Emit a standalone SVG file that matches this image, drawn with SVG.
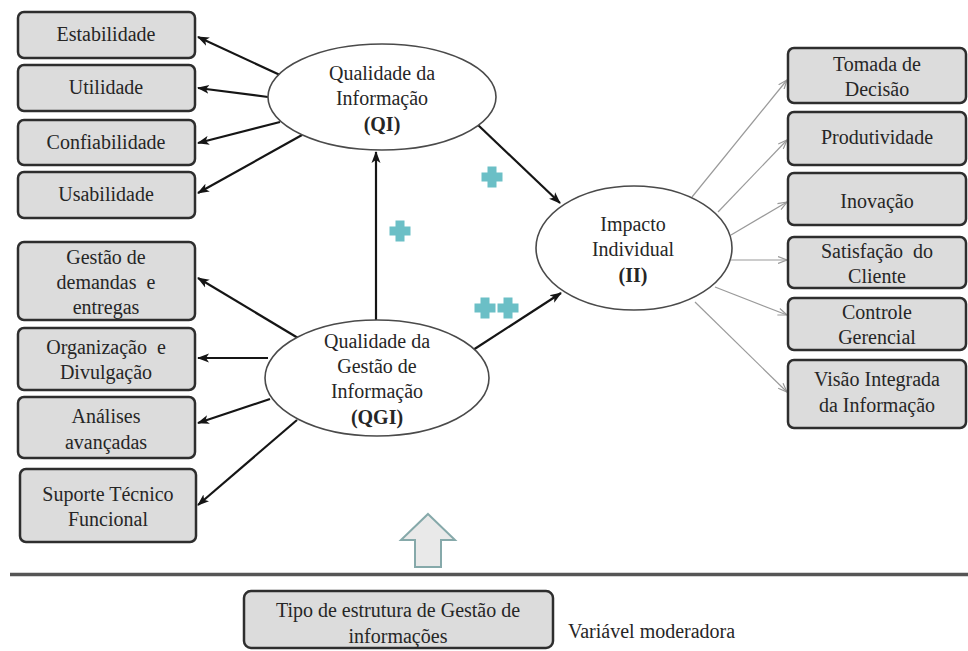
<svg xmlns="http://www.w3.org/2000/svg" width="968" height="651" viewBox="0 0 968 651" font-family="Liberation Serif">
  <style>
    text { font-size: 20px; fill: #262626; text-anchor: middle; }
    .box { fill: #dcdcdc; stroke: #2e2e2e; stroke-width: 2.5; }
    .ell { fill: #ffffff; stroke: #4a4a4a; stroke-width: 1.6; }
    .dark { stroke: #151515; stroke-width: 2.2; fill: none; marker-end: url(#arrowDark); }
    .light { stroke: #9a9a9a; stroke-width: 1.2; fill: none; marker-end: url(#arrowLight); }
    .plus { fill: #6bbfc6; }
    .bold { font-weight: bold; }
    .start { text-anchor: start; }
  </style>
  <defs>
    <marker id="arrowDark" viewBox="0 0 12 10" refX="11" refY="5" markerWidth="12" markerHeight="10" markerUnits="userSpaceOnUse" orient="auto">
      <path d="M0,0.5 L12,5 L0,9.5 L3,5 z" fill="#151515"/>
    </marker>
    <marker id="arrowLight" viewBox="0 0 10 8" refX="9.5" refY="4" markerWidth="10" markerHeight="8" markerUnits="userSpaceOnUse" orient="auto">
      <path d="M0.5,0.5 L9.5,4 L0.5,7.5" fill="none" stroke="#9a9a9a" stroke-width="1.2"/>
    </marker>
  </defs>

  <rect width="968" height="651" fill="#ffffff"/>

  <!-- connectors -->
  <g id="connectors">
    <!-- QI to its indicators -->
    <line class="dark" x1="280" y1="75" x2="198" y2="37"/>
    <line class="dark" x1="268" y1="97" x2="198" y2="88"/>
    <line class="dark" x1="280" y1="122" x2="198" y2="143"/>
    <line class="dark" x1="302" y1="135" x2="198" y2="193"/>
    <!-- QGI to its indicators -->
    <line class="dark" x1="298" y1="338" x2="198" y2="278"/>
    <line class="dark" x1="268" y1="358" x2="198" y2="358"/>
    <line class="dark" x1="270" y1="399" x2="198" y2="423"/>
    <line class="dark" x1="297" y1="420" x2="198" y2="505"/>
    <!-- structural paths -->
    <line class="dark" x1="376" y1="320" x2="376" y2="152"/>
    <line class="dark" x1="478" y1="125" x2="560" y2="203"/>
    <line class="dark" x1="473" y1="350" x2="561" y2="293"/>
    <!-- II to its indicators -->
    <line class="light" x1="692" y1="197" x2="787" y2="80"/>
    <line class="light" x1="718" y1="212" x2="787" y2="140"/>
    <line class="light" x1="731" y1="235" x2="787" y2="202"/>
    <line class="light" x1="731" y1="260" x2="787" y2="260"/>
    <line class="light" x1="715" y1="287" x2="787" y2="315"/>
    <line class="light" x1="695" y1="302" x2="787" y2="392"/>
  </g>

  <!-- signs of the effects -->
  <g id="signs">
    <path class="plus" transform="translate(492,177)" d="M-4.5,-10.5 h9 v6 h6 v9 h-6 v6 h-9 v-6 h-6 v-9 h6 z"/>
    <path class="plus" transform="translate(400,231)" d="M-4.5,-10.5 h9 v6 h6 v9 h-6 v6 h-9 v-6 h-6 v-9 h6 z"/>
    <path class="plus" transform="translate(485,308)" d="M-4.5,-10.5 h9 v6 h6 v9 h-6 v6 h-9 v-6 h-6 v-9 h6 z"/>
    <path class="plus" transform="translate(508,308)" d="M-4.5,-10.5 h9 v6 h6 v9 h-6 v6 h-9 v-6 h-6 v-9 h6 z"/>
  </g>

  <!-- left indicators: QI -->
  <g id="estabilidade">
    <rect class="box" x="18" y="12" width="177" height="46" rx="6"/>
    <text x="106" y="41" font-family="Liberation Serif">Estabilidade</text>
  </g>
  <g id="utilidade">
    <rect class="box" x="18" y="65" width="177" height="46" rx="6"/>
    <text x="106" y="94" font-family="Liberation Serif">Utilidade</text>
  </g>
  <g id="confiabilidade">
    <rect class="box" x="18" y="120" width="177" height="45" rx="6"/>
    <text x="106" y="149" font-family="Liberation Serif">Confiabilidade</text>
  </g>
  <g id="usabilidade">
    <rect class="box" x="18" y="172" width="177" height="46" rx="6"/>
    <text x="106" y="201" font-family="Liberation Serif">Usabilidade</text>
  </g>

  <!-- left indicators: QGI -->
  <g id="gestao-demandas">
    <rect class="box" x="18" y="242" width="177" height="78" rx="6"/>
    <text x="106" y="264" font-family="Liberation Serif">Gestão de</text>
    <text x="106" y="289" font-family="Liberation Serif">demandas&#160; e</text>
    <text x="106" y="314" font-family="Liberation Serif">entregas</text>
  </g>
  <g id="organizacao">
    <rect class="box" x="18" y="328" width="177" height="62" rx="6"/>
    <text x="106" y="354" font-family="Liberation Serif">Organização&#160; e</text>
    <text x="106" y="379" font-family="Liberation Serif">Divulgação</text>
  </g>
  <g id="analises">
    <rect class="box" x="18" y="397" width="177" height="61" rx="6"/>
    <text x="106" y="423" font-family="Liberation Serif">Análises</text>
    <text x="106" y="449" font-family="Liberation Serif">avançadas</text>
  </g>
  <g id="suporte">
    <rect class="box" x="20" y="469" width="176" height="73" rx="6"/>
    <text x="108" y="501" font-family="Liberation Serif">Suporte Técnico</text>
    <text x="108" y="526" font-family="Liberation Serif">Funcional</text>
  </g>

  <!-- constructs -->
  <g id="qi">
    <ellipse class="ell" cx="382" cy="97" rx="114" ry="53"/>
    <text x="382" y="80" font-family="Liberation Serif">Qualidade da</text>
    <text x="382" y="105" font-family="Liberation Serif">Informação</text>
    <text x="382" y="131" font-family="Liberation Serif" class="bold">(QI)</text>
  </g>
  <g id="qgi">
    <ellipse class="ell" cx="377" cy="378" rx="112" ry="58"/>
    <text x="377" y="348" font-family="Liberation Serif">Qualidade da</text>
    <text x="377" y="373" font-family="Liberation Serif">Gestão de</text>
    <text x="377" y="398" font-family="Liberation Serif">Informação</text>
    <text x="377" y="424" font-family="Liberation Serif" class="bold">(QGI)</text>
  </g>
  <g id="ii">
    <ellipse class="ell" cx="634" cy="248" rx="98" ry="62"/>
    <text x="633" y="231" font-family="Liberation Serif">Impacto</text>
    <text x="633" y="256" font-family="Liberation Serif">Individual</text>
    <text x="633" y="282" font-family="Liberation Serif" class="bold">(II)</text>
  </g>

  <!-- right indicators: II -->
  <g id="tomada-decisao">
    <rect class="box" x="788" y="48" width="178" height="55" rx="6"/>
    <text x="877" y="71" font-family="Liberation Serif">Tomada de</text>
    <text x="877" y="96" font-family="Liberation Serif">Decisão</text>
  </g>
  <g id="produtividade">
    <rect class="box" x="788" y="112" width="178" height="53" rx="6"/>
    <text x="877" y="144" font-family="Liberation Serif">Produtividade</text>
  </g>
  <g id="inovacao">
    <rect class="box" x="788" y="173" width="178" height="52" rx="6"/>
    <text x="877" y="208" font-family="Liberation Serif">Inovação</text>
  </g>
  <g id="satisfacao">
    <rect class="box" x="788" y="237" width="178" height="51" rx="6"/>
    <text x="877" y="258" font-family="Liberation Serif">Satisfação&#160; do</text>
    <text x="877" y="283" font-family="Liberation Serif">Cliente</text>
  </g>
  <g id="controle">
    <rect class="box" x="788" y="298" width="178" height="52" rx="6"/>
    <text x="877" y="319" font-family="Liberation Serif">Controle</text>
    <text x="877" y="344" font-family="Liberation Serif">Gerencial</text>
  </g>
  <g id="visao">
    <rect class="box" x="788" y="360" width="178" height="68" rx="6"/>
    <text x="877" y="386" font-family="Liberation Serif">Visão Integrada</text>
    <text x="877" y="412" font-family="Liberation Serif">da Informação</text>
  </g>

  <!-- moderating variable -->
  <g id="moderacao-seta">
    <polygon points="428,514 455,540 441,540 441,567 415,567 415,540 401,540" fill="#e9e9e9" stroke="#86a9aa" stroke-width="2"/>
  </g>
  <line id="separador" x1="10" y1="574.5" x2="968" y2="574.5" stroke="#555555" stroke-width="3.5"/>
  <g id="tipo-estrutura">
    <rect class="box" x="244" y="591" width="309" height="57" rx="7"/>
    <text x="398" y="617" font-family="Liberation Serif">Tipo de estrutura de Gestão de</text>
    <text x="398" y="643" font-family="Liberation Serif">informações</text>
  </g>
  <g id="legenda">
    <text x="568" y="638" font-family="Liberation Serif" class="start">Variável moderadora</text>
  </g>
</svg>
